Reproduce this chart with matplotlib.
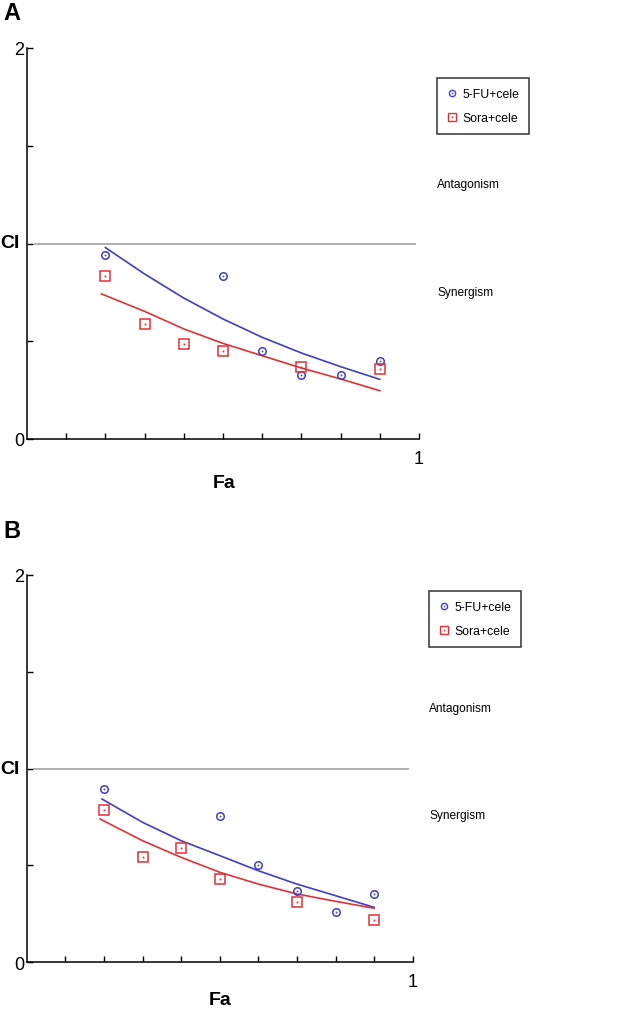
import matplotlib
matplotlib.use('Agg')
import matplotlib.pyplot as plt
from matplotlib.legend_handler import HandlerTuple
from matplotlib.lines import Line2D

# ---------------- data ----------------
# Panel A
a_fu_fa = [0.2, 0.5, 0.6, 0.7, 0.8, 0.9]
a_fu_ci = [0.94, 0.835, 0.449, 0.327, 0.327, 0.40]
a_sora_fa = [0.2, 0.3, 0.4, 0.5, 0.7, 0.9]
a_sora_ci = [0.834, 0.59, 0.486, 0.449, 0.37, 0.36]
a_fu_curve_fa = [0.2, 0.3, 0.4, 0.5, 0.6, 0.7, 0.8, 0.9]
a_fu_curve_ci = [0.979, 0.844, 0.721, 0.614, 0.520, 0.440, 0.370, 0.305]
a_sora_curve_fa = [0.19, 0.3, 0.4, 0.5, 0.6, 0.7, 0.8, 0.9]
a_sora_curve_ci = [0.742, 0.653, 0.563, 0.489, 0.426, 0.363, 0.307, 0.247]

# Panel B
b_fu_fa = [0.2, 0.5, 0.6, 0.7, 0.8, 0.9]
b_fu_ci = [0.895, 0.757, 0.502, 0.368, 0.258, 0.353]
b_sora_fa = [0.2, 0.3, 0.4, 0.5, 0.7, 0.9]
b_sora_ci = [0.788, 0.545, 0.592, 0.432, 0.313, 0.218]
b_fu_curve_fa = [0.195, 0.3, 0.4, 0.5, 0.6, 0.7, 0.8, 0.9]
b_fu_curve_ci = [0.843, 0.723, 0.628, 0.551, 0.473, 0.404, 0.344, 0.284]
b_sora_curve_fa = [0.19, 0.3, 0.4, 0.5, 0.6, 0.7, 0.8, 0.9]
b_sora_curve_ci = [0.740, 0.628, 0.542, 0.465, 0.404, 0.353, 0.315, 0.279]

series_labels = ['5-FU+cele', 'Sora+cele']
y_ticks = [0, 0.5, 1, 1.5, 2]
x_ticks = [0.1, 0.2, 0.3, 0.4, 0.5, 0.6, 0.7, 0.8, 0.9, 1.0]

BLUE = '#3f3fc4'
RED = '#e03038'
GRAY = '#a8a8a8'

W, H = 617, 1012
plt.rcParams['font.family'] = ['Liberation Sans', 'DejaVu Sans']
fig = plt.figure(figsize=(W / 100, H / 100), dpi=100)


def fx(px):
    return px / W


def fy(py):
    return 1 - py / H


def panel(rect, fu, sora, fu_curve, sora_curve, ref_span, letter_pos, legend_pos,
          antag_pos, syn_pos, ci_pos, fa_pos, letter):
    ax = fig.add_axes(rect)
    ax.set_xlim(0, 1)
    ax.set_ylim(0, 2)
    for s in ['top', 'right']:
        ax.spines[s].set_visible(False)
    for s in ['left', 'bottom']:
        ax.spines[s].set_linewidth(1.1)
    ax.set_yticks(y_ticks)
    ax.set_yticklabels(['0', '', '', '', '2'], fontsize=13)
    ax.set_xticks(x_ticks)
    ax.set_xticklabels([''] * 9 + ['1'], fontsize=13)
    ax.tick_params(axis='y', direction='in', length=4, width=1.0, pad=2)
    ax.tick_params(axis='x', direction='in', length=4, width=1.0, pad=8)

    ax.plot(ref_span, [1, 1], color=GRAY, lw=1.3)
    ax.plot(fu_curve[0], fu_curve[1], color=BLUE, lw=1.2, clip_on=False)
    ax.plot(sora_curve[0], sora_curve[1], color=RED, lw=1.2, clip_on=False)

    ax.plot(fu[0], fu[1], ls='none', marker='o', ms=5.4, mfc='none',
            mec=BLUE, mew=1.1, clip_on=False)
    ax.plot(fu[0], fu[1], ls='none', marker='o', ms=1.3, mfc=BLUE,
            mec=BLUE, mew=0, clip_on=False)
    ax.plot(sora[0], sora[1], ls='none', marker='s', ms=6.8, mfc='none',
            mec=RED, mew=1.1, clip_on=False)
    ax.plot(sora[0], sora[1], ls='none', marker='s', ms=1.3, mfc=RED,
            mec=RED, mew=0, clip_on=False)

    h1 = (Line2D([], [], ls='none', marker='o', ms=4.5, mfc='none', mec=BLUE, mew=1.0),
          Line2D([], [], ls='none', marker='o', ms=1.2, mfc=BLUE, mec=BLUE, mew=0))
    h2 = (Line2D([], [], ls='none', marker='s', ms=6.0, mfc='none', mec=RED, mew=1.0),
          Line2D([], [], ls='none', marker='s', ms=1.2, mfc=RED, mec=RED, mew=0))
    leg = fig.legend([h1, h2], series_labels,
                     handler_map={tuple: HandlerTuple(ndivide=1, pad=0)},
                     loc='upper left',
                     bbox_to_anchor=(fx(legend_pos[0]), fy(legend_pos[1])),
                     fontsize=8.8, frameon=True, fancybox=False,
                     edgecolor='black', handlelength=0.8, handletextpad=0.45,
                     labelspacing=1.0, borderpad=0.8, borderaxespad=0)
    leg.get_frame().set_linewidth(1.1)

    fig.text(fx(letter_pos[0]), fy(letter_pos[1]), letter, fontsize=17,
             fontweight='bold', ha='left', va='center')
    fig.text(fx(antag_pos[0]), fy(antag_pos[1]), 'Antagonism', fontsize=8.6,
             ha='left', va='center')
    fig.text(fx(syn_pos[0]), fy(syn_pos[1]), 'Synergism', fontsize=8.6,
             ha='left', va='center')
    fig.text(fx(ci_pos[0]), fy(ci_pos[1]), 'CI', fontsize=14,
             fontweight='bold', ha='left', va='center')
    fig.text(fx(fa_pos[0]), fy(fa_pos[1]), 'Fa', fontsize=14,
             fontweight='bold', ha='center', va='center')
    return ax


panel([fx(27), fy(440), (419 - 27) / W, (440 - 49) / H],
      (a_fu_fa, a_fu_ci), (a_sora_fa, a_sora_ci),
      (a_fu_curve_fa, a_fu_curve_ci), (a_sora_curve_fa, a_sora_curve_ci),
      [0.02, 0.99], (3, 14), (437, 79), (437, 185), (437, 293), (0, 244),
      (224, 483), 'A')

panel([fx(26.7), fy(963.3), (412.7 - 26.7) / W, (963.3 - 576) / H],
      (b_fu_fa, b_fu_ci), (b_sora_fa, b_sora_ci),
      (b_fu_curve_fa, b_fu_curve_ci), (b_sora_curve_fa, b_sora_curve_ci),
      [0.019, 0.988], (3, 532), (429, 592), (429, 709), (429, 816), (0, 770),
      (220, 1001), 'B')

fig.savefig('out.png', dpi=100)
